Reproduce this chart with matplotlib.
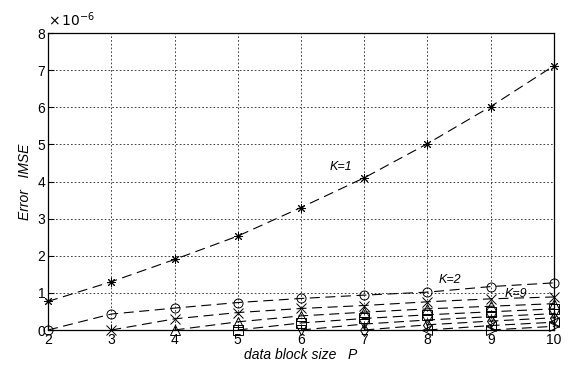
import numpy as np
import matplotlib.pyplot as plt

plt.rcParams['font.family'] = ['Liberation Sans', 'DejaVu Sans']

# block sizes P and error curves (units of 1e-6), one list per K
p_values = [2, 3, 4, 5, 6, 7, 8, 9, 10]
k1 = [0.77, 1.30, 1.90, 2.53, 3.30, 4.10, 5.02, 6.02, 7.12]
k2 = [0.00, 0.43, 0.59, 0.74, 0.85, 0.94, 1.02, 1.17, 1.27]
k3 = [0.00, 0.30, 0.47, 0.58, 0.66, 0.76, 0.84, 0.89]
k4 = [0.00, 0.22, 0.38, 0.48, 0.57, 0.64, 0.71]
k5 = [0.00, 0.19, 0.31, 0.41, 0.49, 0.57]
k6 = [0.00, 0.16, 0.27, 0.36, 0.44]
k7 = [0.00, 0.14, 0.24, 0.33]
k8 = [0.00, 0.12, 0.21]
k9 = [0.00, 0.10]

curves = [k1, k2, k3, k4, k5, k6, k7, k8, k9]
markers = [(8, 2, 0), 'o', 'x', '^', 's', 'v', 'd', '<', '>']

fig = plt.figure(figsize=(5.69, 3.67), dpi=100)
ax = fig.add_axes([0.0844, 0.1008, 0.8892, 0.8092])

for vals, mk in zip(curves, markers):
    xs = p_values[len(p_values) - len(vals):]
    ax.plot(xs, vals, color='black', lw=0.8, linestyle=(0, (9, 5)),
            marker=mk, markersize=6.5, markerfacecolor='none',
            markeredgecolor='black', markeredgewidth=0.7, clip_on=False,
            zorder=3)

ax.set_xlim(2, 10)
ax.set_ylim(0, 8)
ax.set_xticks(range(2, 11))
ax.set_yticks(range(0, 9))
ax.grid(True, color='#222222', linestyle=(0, (2, 2.5)), lw=0.6)
ax.tick_params(direction='in', length=4, labelsize=10, pad=2)
for s in ax.spines.values():
    s.set_linewidth(0.9)

ax.text(0.0, 1.012, r'$\times\,10^{-6}$', transform=ax.transAxes,
        fontsize=10, ha='left', va='bottom')

ax.text(6.45, 4.4, 'K=1', fontsize=9, style='italic', va='center')
ax.text(8.18, 1.35, 'K=2', fontsize=9, style='italic', va='center')
ax.text(9.22, 0.97, 'K=9', fontsize=9, style='italic', va='center')

ax.set_xlabel('data block size   P', fontsize=10, style='italic', labelpad=1)
ax.set_ylabel('Error   IMSE', fontsize=10, style='italic', labelpad=4)

fig.savefig('out.png', dpi=100)
